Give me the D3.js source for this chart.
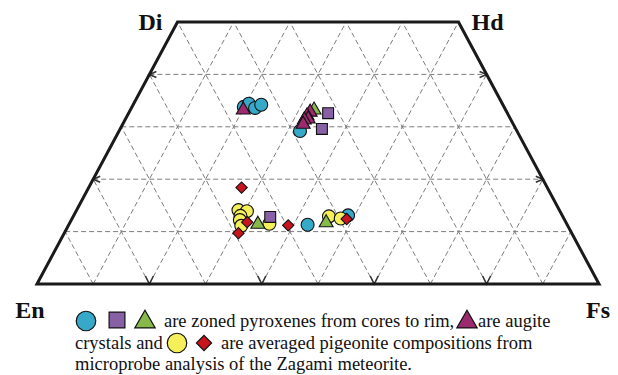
<!DOCTYPE html>
<html>
<head>
<meta charset="utf-8">
<script src="https://cdn.jsdelivr.net/npm/d3@7"></script>
<style>
  body { margin: 0; background: #fff; }
  svg { display: block; }
</style>
</head>
<body>
<div id="plot"></div>
<script>
// compositions: wo = Wo %, fs = Fs % (En = 100 - wo - fs)
const zonedCircles = [
  { wo: 33.8, fs: 19.9 }, { wo: 34.4, fs: 20.5 }, { wo: 33.6, fs: 22.0 }, { wo: 34.2, fs: 22.8 },
  { wo: 29.2, fs: 32.2 }, { wo: 11.3, fs: 42.5 }, { wo: 13.1, fs: 48.8 }
];
const zonedSquares = [
  { wo: 32.6, fs: 35.5 }, { wo: 29.6, fs: 35.9 }, { wo: 12.8, fs: 35.1 }
];
const zonedTriangles = [
  { wo: 33.2, fs: 32.7 }, { wo: 11.4, fs: 33.6 }, { wo: 11.7, fs: 45.6 }
];
const augiteTriangles = [
  { wo: 33.2, fs: 20.1 }, { wo: 32.8, fs: 32.2 }, { wo: 32.1, fs: 32.0 }, { wo: 31.5, fs: 32.5 },
  { wo: 31.3, fs: 31.9 }, { wo: 30.5, fs: 32.1 }
];
const pigeoniteCircles = [
  { wo: 14.1, fs: 28.8 }, { wo: 13.9, fs: 30.4 }, { wo: 13.0, fs: 29.7 }, { wo: 12.2, fs: 30.0 },
  { wo: 11.1, fs: 30.8 }, { wo: 11.5, fs: 35.6 }, { wo: 12.9, fs: 45.5 }, { wo: 12.5, fs: 47.8 }
];
const pigeoniteDiamonds = [
  { wo: 18.4, fs: 27.2 }, { wo: 11.8, fs: 31.5 }, { wo: 9.7, fs: 31.0 }, { wo: 11.2, fs: 39.1 },
  { wo: 12.4, fs: 48.9 }
];

const gridSteps = [10, 20, 30, 40, 50, 60, 70, 80, 90];
const woLines = [10, 20, 30, 40];
const arrowWo = [20, 40];
const arrowFs = [20, 40, 60, 80];
const cornerLabels = [
  { name: 'Di', wo: 50, fs: 0, dx: -27, dy: 8 },
  { name: 'Hd', wo: 50, fs: 50, dx: 29, dy: 8 },
  { name: 'En', wo: 0, fs: 0, dx: -7, dy: 34 },
  { name: 'Fs', wo: 0, fs: 100, dx: -1, dy: 34 }
];

const serif = '"Liberation Serif", "Times New Roman", Times, serif';
const width = 618, height = 375;
const svg = d3.select('#plot').append('svg').attr('width', width).attr('height', height);

const xScale = d3.scaleLinear().domain([0, 100]).range([37, 599]);
const yScale = d3.scaleLinear().domain([0, 50]).range([284, 22]);
const px = d => xScale(d.fs + d.wo / 2);
const py = d => yScale(d.wo);
const pt = (wo, fs) => [px({ wo, fs }), py({ wo, fs })];

// dashed grid
const grid = svg.append('g').attr('stroke', '#7d7d7d').attr('stroke-width', 1)
  .attr('stroke-dasharray', '5,3').attr('fill', 'none');
woLines.forEach(w => {
  grid.append('line')
    .attr('x1', pt(w, 0)[0]).attr('y1', pt(w, 0)[1])
    .attr('x2', pt(w, 100 - w)[0]).attr('y2', pt(w, 100 - w)[1]);
});
gridSteps.forEach(f => {
  // constant Fs
  const a = pt(0, f), b = f <= 50 ? pt(50, f) : pt(100 - f, f);
  grid.append('line').attr('x1', a[0]).attr('y1', a[1]).attr('x2', b[0]).attr('y2', b[1]);
  // constant En
  const e = f, c = pt(0, 100 - e), d = e <= 50 ? pt(50, 50 - e) : pt(100 - e, 0);
  grid.append('line').attr('x1', c[0]).attr('y1', c[1]).attr('x2', d[0]).attr('y2', d[1]);
});

// small arrow heads where grid lines meet the frame
const arrows = svg.append('g').attr('stroke', '#333').attr('stroke-width', 1.6).attr('fill', 'none');
arrowWo.forEach(w => {
  const l = pt(w, 0), r = pt(w, 100 - w);
  arrows.append('path').attr('d', `M${l[0] + 7},${l[1] - 3}L${l[0]},${l[1]}L${l[0] + 7},${l[1] + 3}`);
  arrows.append('path').attr('d', `M${r[0] - 7},${r[1] - 3}L${r[0]},${r[1]}L${r[0] - 7},${r[1] + 3}`);
});
arrowFs.forEach(f => {
  const b = pt(0, f);
  arrows.append('path').attr('d', `M${b[0] - 4},${b[1] - 8}L${b[0]},${b[1]}L${b[0] + 4},${b[1] - 8}`);
});

// frame
const frame = [pt(0, 0), pt(50, 0), pt(50, 50), pt(0, 100)];
svg.append('path')
  .attr('d', d3.line()(frame) + 'Z')
  .attr('fill', 'none').attr('stroke', '#1a1a1a').attr('stroke-width', 3).attr('stroke-linejoin', 'miter');

// corner labels
svg.selectAll('text.corner').data(cornerLabels).enter().append('text')
  .attr('class', 'corner')
  .attr('x', d => px(d) + d.dx).attr('y', d => py(d) + d.dy)
  .attr('text-anchor', 'middle').attr('font-family', serif)
  .attr('font-size', 24).attr('font-weight', 'bold').attr('fill', '#111')
  .text(d => d.name);

// markers
const sym = (type, size) => d3.symbol().type(type).size(size)();
const styles = {
  circle: { path: sym(d3.symbolCircle, 132), rot: 0 },
  square: { path: sym(d3.symbolSquare, 118), rot: 0 },
  triangle: { path: sym(d3.symbolTriangle, 84), rot: 0 },
  diamond: { path: sym(d3.symbolSquare, 64), rot: 45 }
};
function drawSeries(data, shape, color) {
  svg.append('g').selectAll('path').data(data).enter().append('path')
    .attr('d', styles[shape].path)
    .attr('transform', d => `translate(${px(d)},${py(d)}) rotate(${styles[shape].rot})`)
    .attr('fill', color).attr('stroke', '#111').attr('stroke-width', 1.1);
}
drawSeries(zonedCircles, 'circle', '#36a9c9');
drawSeries(pigeoniteCircles, 'circle', '#f5f05a');
drawSeries(zonedSquares, 'square', '#8760a6');
drawSeries(pigeoniteDiamonds, 'diamond', '#c8141c');
drawSeries(zonedTriangles, 'triangle', '#86b84a');
drawSeries(augiteTriangles, 'triangle', '#9b2a6f');

// legend
const lg = svg.append('g').attr('font-family', serif).attr('font-size', 18.5).attr('fill', '#111');
const legendMark = (shape, color, x, y, size) => {
  const t = { circle: d3.symbolCircle, square: d3.symbolSquare, triangle: d3.symbolTriangle, diamond: d3.symbolSquare }[shape];
  lg.append('path').attr('d', d3.symbol().type(t).size(size)())
    .attr('transform', `translate(${x},${y}) rotate(${shape === 'diamond' ? 45 : 0})`)
    .attr('fill', color).attr('stroke', '#111').attr('stroke-width', 1.2);
};
legendMark('circle', '#36a9c9', 86, 321, 300);
legendMark('square', '#8760a6', 117, 320, 250);
legendMark('triangle', '#86b84a', 145, 322, 180);
legendMark('triangle', '#9b2a6f', 467, 322, 180);
legendMark('circle', '#f5f05a', 177, 343, 300);
legendMark('diamond', '#c8141c', 204, 343, 115);
lg.append('text').attr('x', 164).attr('y', 327).text('are zoned pyroxenes from cores to rim,');
lg.append('text').attr('x', 478).attr('y', 327).text('are augite');
lg.append('text').attr('x', 75).attr('y', 349).text('crystals and');
lg.append('text').attr('x', 221).attr('y', 349).text('are averaged pigeonite compositions from');
lg.append('text').attr('x', 75).attr('y', 370).text('microprobe analysis of the Zagami meteorite.');
</script>
</body>
</html>
